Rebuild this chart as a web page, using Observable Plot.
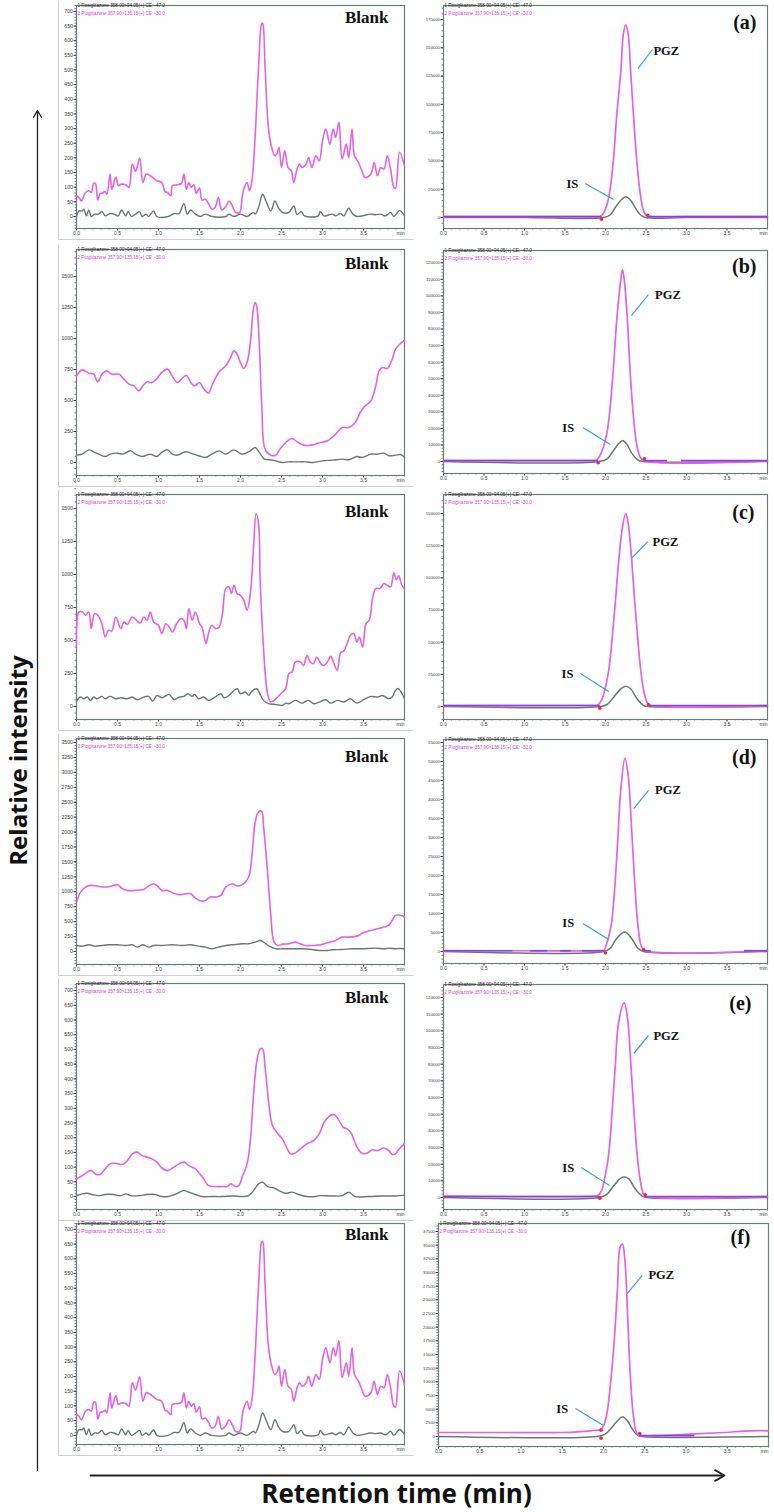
<!DOCTYPE html>
<html><head><meta charset="utf-8">
<script src="https://cdn.jsdelivr.net/npm/d3@7"></script>
<script src="https://cdn.jsdelivr.net/npm/@observablehq/plot@0.6"></script>
<style>
html,body{margin:0;padding:0;background:#fff;}
#page{position:relative;width:774px;height:1512px;overflow:hidden;background:#fff;}
#page svg{position:absolute;}
</style></head><body><div id="page"></div>
<script>
// ---------- text ----------
const hdr1 = "1 Rosiglitazone 358.00>94.05(+) CE: -47.0";
const hdr2 = "2 Pioglitazone 357.90>135.15(+) CE: -30.0";
const blankLabel = "Blank";
const panelLetters = ["(a)", "(b)", "(c)", "(d)", "(e)", "(f)"];
const yTitle = "Relative intensity";
const xTitle = "Retention time (min)";

// ---------- x ticks ----------
const xMajor = [0, 0.5, 1, 1.5, 2, 2.5, 3, 3.5];
const xMinor = d3.range(0, 4.001, 0.1);
const xEnd = ["min"];

// ---------- blank chromatograms (left column) ----------
const blank1Pgz = [[0,71],[.03,65],[.06,53],[.11,82],[.15,88],[.18,82],[.21,113],[.23,113],[.26,56],[.29,79],[.31,79],[.35,85],[.37,76],[.41,145],[.43,93],[.48,135],[.51,105],[.54,110],[.60,108],[.64,99],[.68,179],[.72,154],[.77,199],[.81,116],[.85,145],[.90,139],[.94,131],[.98,122],[1.04,116],[1.08,85],[1.11,82],[1.15,71],[1.17,105],[1.23,108],[1.28,113],[1.31,145],[1.34,93],[1.37,116],[1.40,99],[1.43,108],[1.46,79],[1.50,97],[1.53,56],[1.57,59],[1.61,44],[1.65,25],[1.69,31],[1.73,65],[1.77,22],[1.82,33],[1.86,53],[1.90,36],[1.94,14],[1.99,14],[2.02,65],[2.04,93],[2.08,116],[2.11,88],[2.14,122],[2.18,281],[2.22,509],[2.26,659],[2.27,659],[2.30,509],[2.34,304],[2.38,236],[2.42,207],[2.45,218],[2.47,236],[2.50,167],[2.54,224],[2.58,167],[2.62,156],[2.65,116],[2.69,162],[2.72,179],[2.75,167],[2.80,179],[2.83,201],[2.87,167],[2.92,207],[2.96,190],[3.00,258],[3.04,298],[3.09,247],[3.13,298],[3.16,270],[3.20,321],[3.24,196],[3.29,247],[3.32,201],[3.36,298],[3.39,207],[3.44,184],[3.48,156],[3.52,133],[3.59,145],[3.63,184],[3.67,139],[3.71,167],[3.75,162],[3.79,207],[3.83,162],[3.87,99],[3.89,96],[3.94,219],[4.0,172]];
const blank1Is = [[0,0],[.03,19],[.07,19],[.09,25],[.12,2],[.15,22],[.18,0],[.22,8],[.27,8],[.31,17],[.35,2],[.41,10],[.46,8],[.51,2],[.55,22],[.60,2],[.63,17],[.67,0],[.72,8],[.77,16],[.80,0],[.85,8],[.88,0],[.94,19],[.98,0],[1.12,0],[1.19,10],[1.25,10],[1.31,44],[1.35,8],[1.39,22],[1.45,8],[1.51,0],[1.57,8],[1.65,0],[1.82,0],[1.86,8],[1.92,0],[2.00,8],[2.08,0],[2.16,14],[2.18,8],[2.22,31],[2.27,76],[2.31,53],[2.37,19],[2.42,53],[2.46,31],[2.51,14],[2.59,14],[2.65,36],[2.69,6],[2.74,17],[2.78,2],[2.95,2],[2.97,17],[3.02,2],[3.12,8],[3.16,2],[3.22,10],[3.26,2],[3.32,28],[3.37,8],[3.42,0],[3.59,8],[3.65,6],[3.71,8],[3.77,2],[3.83,14],[3.87,0],[3.94,20],[4.0,3]];

const blank2Pgz = [[0,699],[.07,747],[.15,720],[.21,712],[.26,650],[.31,712],[.37,739],[.43,712],[.52,712],[.56,685],[.64,632],[.70,618],[.76,578],[.81,618],[.86,650],[.92,645],[.98,677],[1.04,726],[1.11,753],[1.17,694],[1.23,645],[1.28,672],[1.34,704],[1.39,650],[1.44,618],[1.50,645],[1.55,597],[1.61,559],[1.65,618],[1.74,731],[1.82,780],[1.88,847],[1.92,900],[1.96,873],[2.0,806],[2.04,758],[2.08,806],[2.12,968],[2.16,1250],[2.18,1290],[2.20,1250],[2.23,941],[2.26,457],[2.30,107],[2.37,59],[2.43,59],[2.48,107],[2.55,161],[2.63,194],[2.69,167],[2.77,140],[2.87,140],[2.95,156],[3.06,175],[3.16,228],[3.24,282],[3.32,282],[3.40,323],[3.46,403],[3.52,457],[3.59,497],[3.65,618],[3.69,739],[3.73,766],[3.79,758],[3.85,833],[3.89,914],[3.95,960],[4.0,985]];
const blank2Is = [[0,59],[.07,67],[.15,102],[.21,86],[.27,67],[.35,48],[.41,67],[.50,75],[.56,67],[.66,94],[.72,67],[.80,48],[.90,67],[.98,48],[1.04,81],[1.11,102],[1.17,67],[1.23,59],[1.33,86],[1.43,67],[1.49,54],[1.57,40],[1.65,67],[1.74,94],[1.82,67],[1.92,102],[2.02,67],[2.12,94],[2.18,121],[2.23,81],[2.29,27],[2.35,22],[2.43,13],[2.51,0],[2.59,5],[2.67,5],[2.79,5],[2.89,0],[3.0,13],[3.12,19],[3.24,27],[3.32,22],[3.42,48],[3.48,40],[3.59,67],[3.67,67],[3.75,75],[3.81,54],[3.89,59],[3.95,64],[4.0,42]];

const blank3Pgz = [[0,450],[.03,716],[.07,716],[.11,691],[.15,716],[.18,589],[.22,703],[.26,691],[.31,627],[.35,526],[.39,577],[.43,572],[.48,678],[.54,589],[.58,640],[.62,622],[.68,678],[.73,653],[.78,633],[.82,678],[.86,653],[.90,716],[.94,640],[1.0,615],[1.04,552],[1.09,627],[1.13,602],[1.17,564],[1.22,627],[1.27,665],[1.31,653],[1.34,589],[1.37,741],[1.41,653],[1.45,716],[1.50,627],[1.53,602],[1.58,476],[1.61,552],[1.65,615],[1.70,589],[1.74,602],[1.78,703],[1.82,893],[1.86,906],[1.89,855],[1.92,918],[1.96,855],[2.0,842],[2.04,805],[2.08,729],[2.12,855],[2.16,1209],[2.19,1462],[2.22,1386],[2.24,956],[2.28,450],[2.33,96],[2.37,33],[2.43,58],[2.49,96],[2.55,134],[2.59,248],[2.63,261],[2.67,337],[2.73,337],[2.77,311],[2.81,387],[2.85,337],[2.89,324],[2.93,374],[2.98,324],[3.02,311],[3.06,337],[3.10,379],[3.14,324],[3.18,273],[3.22,405],[3.26,420],[3.30,476],[3.34,539],[3.38,552],[3.42,488],[3.45,526],[3.49,450],[3.53,627],[3.57,653],[3.61,817],[3.65,893],[3.70,893],[3.75,931],[3.79,918],[3.83,906],[3.87,1012],[3.90,960],[3.93,990],[3.96,930],[4.0,890]];
const blank3Is = [[0,40],[.05,71],[.09,58],[.13,71],[.17,46],[.21,71],[.25,58],[.31,76],[.35,58],[.41,76],[.48,58],[.54,66],[.62,58],[.68,71],[.74,51],[.82,71],[.88,76],[.93,40],[.98,84],[1.04,66],[1.13,91],[1.19,51],[1.25,71],[1.31,76],[1.36,96],[1.41,76],[1.44,91],[1.49,58],[1.55,71],[1.61,46],[1.69,71],[1.76,96],[1.80,66],[1.86,84],[1.92,121],[1.96,134],[2.0,96],[2.06,109],[2.10,84],[2.14,116],[2.20,134],[2.24,91],[2.28,46],[2.35,20],[2.43,15],[2.51,8],[2.55,25],[2.59,20],[2.67,46],[2.75,25],[2.83,46],[2.89,20],[2.96,33],[3.04,51],[3.10,25],[3.18,46],[3.26,33],[3.34,58],[3.42,25],[3.50,51],[3.59,76],[3.67,71],[3.73,83],[3.81,58],[3.85,71],[3.89,121],[3.92,136],[4.0,60]];

const blank4Pgz = [[0,827],[.05,995],[.11,1079],[.17,1107],[.25,1096],[.33,1079],[.43,1096],[.50,1118],[.56,1051],[.62,1023],[.72,1023],[.82,1040],[.88,1096],[.94,1135],[.98,1107],[1.04,1023],[1.11,1023],[1.17,984],[1.25,950],[1.33,967],[1.39,967],[1.45,895],[1.51,850],[1.57,850],[1.63,911],[1.70,911],[1.76,939],[1.82,1079],[1.90,1135],[1.96,1096],[2.04,1135],[2.10,1247],[2.14,1610],[2.18,2169],[2.22,2337],[2.26,2348],[2.28,2113],[2.33,1331],[2.37,604],[2.41,157],[2.46,101],[2.51,123],[2.59,129],[2.67,157],[2.73,129],[2.79,101],[2.89,101],[2.98,112],[3.06,145],[3.16,185],[3.24,240],[3.32,240],[3.42,257],[3.50,313],[3.59,352],[3.67,380],[3.75,408],[3.81,447],[3.85,520],[3.89,604],[3.93,610],[3.97,600],[4.0,575]];
const blank4Is = [[0,101],[.07,89],[.15,112],[.23,89],[.31,101],[.39,112],[.50,112],[.60,101],[.68,112],[.74,73],[.81,112],[.88,73],[.94,101],[1.04,101],[1.17,112],[1.29,101],[1.39,112],[1.49,89],[1.57,73],[1.65,45],[1.73,73],[1.82,101],[1.90,112],[2.02,129],[2.10,129],[2.18,157],[2.24,185],[2.28,157],[2.35,90],[2.43,45],[2.51,45],[2.59,45],[2.75,45],[2.87,34],[2.96,17],[3.06,17],[3.12,28],[3.24,34],[3.36,45],[3.48,45],[3.65,56],[3.75,45],[3.81,56],[3.89,45],[3.95,50],[4.0,45]];

const blank5Pgz = [[0,60],[.07,71],[.13,83],[.18,88],[.23,77],[.29,75],[.35,94],[.41,111],[.48,113],[.56,109],[.62,122],[.68,145],[.74,151],[.80,139],[.86,134],[.92,128],[.98,117],[1.04,97],[1.11,88],[1.17,97],[1.25,111],[1.31,117],[1.37,105],[1.45,94],[1.53,68],[1.61,37],[1.70,34],[1.78,34],[1.84,34],[1.88,43],[1.94,34],[1.98,37],[2.02,66],[2.08,111],[2.12,190],[2.16,349],[2.20,462],[2.24,502],[2.27,502],[2.30,440],[2.35,304],[2.39,241],[2.45,215],[2.51,196],[2.56,168],[2.61,145],[2.66,147],[2.73,162],[2.81,179],[2.89,190],[2.96,213],[3.02,253],[3.08,272],[3.14,279],[3.19,264],[3.25,236],[3.30,230],[3.35,215],[3.42,168],[3.48,147],[3.54,147],[3.61,159],[3.67,156],[3.75,165],[3.81,156],[3.85,143],[3.89,145],[3.93,160],[4.0,180]];
const blank5Is = [[0,3],[.07,9],[.13,11],[.19,7],[.27,3],[.35,7],[.45,7],[.54,3],[.60,9],[.66,3],[.76,3],[.86,7],[.96,7],[1.04,0],[1.12,0],[1.20,7],[1.31,20],[1.37,15],[1.45,7],[1.53,0],[1.65,0],[1.78,0],[1.90,2],[2.02,0],[2.10,3],[2.16,20],[2.22,43],[2.27,49],[2.33,34],[2.41,29],[2.47,20],[2.55,11],[2.63,15],[2.71,7],[2.81,0],[2.91,0],[2.96,3],[3.12,2],[3.24,3],[3.32,15],[3.40,0],[3.56,0],[3.73,2],[3.89,2],[4.0,5]];

// row 6 blank is the same chromatogram as row 1
const blank6Pgz = blank1Pgz;
const blank6Is = blank1Is;

// ---------- sample chromatograms (right column) ----------
const pgzA = [[0,800],[1.0,800],[1.9,800],[1.94,1000],[1.98,4400],[2.02,11800],[2.06,26500],[2.10,53000],[2.14,91300],[2.19,129600],[2.22,162000],[2.25,170300],[2.28,162000],[2.31,129600],[2.35,85400],[2.39,47100],[2.43,20600],[2.47,5900],[2.51,1500],[2.56,800],[3.0,800],[4.0,800]];
const isA = [[0,0],[1.0,0],[1.98,0],[2.06,2400],[2.12,8800],[2.19,15300],[2.25,18300],[2.31,15300],[2.37,8250],[2.43,2400],[2.49,0],[3.0,0],[4.0,0]];
const pgzB = [[0,600],[1.85,600],[1.88,600],[1.92,2600],[1.98,9660],[2.02,17700],[2.06,33800],[2.10,57900],[2.14,86100],[2.19,110300],[2.21,115900],[2.23,110300],[2.27,86100],[2.30,57900],[2.34,29800],[2.38,11700],[2.42,3600],[2.47,600],[4.0,500]];
const isB = [[0,0],[1.92,0],[2.02,1610],[2.10,6640],[2.16,10660],[2.21,12700],[2.26,10660],[2.33,4630],[2.41,600],[2.47,0],[4.0,0]];
const pgzC = [[0,800],[1.88,800],[1.90,900],[1.95,4700],[2.00,15000],[2.04,28000],[2.08,51400],[2.12,79900],[2.16,111000],[2.21,139600],[2.25,150000],[2.28,142200],[2.32,116300],[2.36,82500],[2.40,51400],[2.44,25400],[2.48,9900],[2.52,2600],[2.56,800],[4.0,800]];
const isC = [[0,0],[1.94,0],[2.02,1560],[2.10,7270],[2.19,13750],[2.25,15830],[2.31,13750],[2.39,5970],[2.47,780],[2.53,0],[4.0,0]];
const pgzD = [[0,250],[1.96,250],[1.98,300],[2.02,2460],[2.07,6850],[2.11,15600],[2.15,28800],[2.19,42900],[2.24,50800],[2.28,46400],[2.32,33200],[2.36,18300],[2.40,6850],[2.44,1580],[2.48,300],[4.0,250]];
const isD = [[0,0],[1.98,0],[2.06,880],[2.14,3500],[2.24,5100],[2.32,3500],[2.40,880],[2.47,0],[4.0,0]];
const pgzE = [[0,800],[1.88,800],[1.90,1000],[1.95,4000],[2.00,14000],[2.04,26100],[2.08,50200],[2.12,78300],[2.16,104400],[2.23,116800],[2.27,108400],[2.31,82300],[2.35,52200],[2.39,26100],[2.43,10000],[2.47,2000],[2.51,600],[4.0,600]];
const isE = [[0,0],[1.92,0],[2.02,2000],[2.10,7000],[2.19,11600],[2.23,12440],[2.29,11000],[2.37,5000],[2.45,1000],[2.51,0],[4.0,0]];
const pgzF = [[0,730],[0.8,730],[1.5,730],[1.84,1040],[1.97,1340],[2.00,1950],[2.04,4100],[2.08,8960],[2.13,17500],[2.17,27260],[2.20,34580],[2.23,35200],[2.26,32140],[2.29,23000],[2.32,12600],[2.36,4100],[2.40,730],[2.43,150],[2.6,150],[3.05,430],[3.46,730],[3.78,1040],[4.0,1040]];
const isF = [[0,0],[1.92,0],[2.02,430],[2.10,1650],[2.17,2870],[2.23,3600],[2.29,2870],[2.35,1340],[2.41,240],[2.47,0],[4.0,0]];

// integration baseline segments [x1, x2, y]
const baseA = [[0,1.95,700],[2.52,4.0,700]];
const baseB = [[0,1.91,500],[2.47,2.76,500],[2.93,4.0,500]];
const baseC = [[0,1.93,800],[2.53,4.0,800]];
const baseD = [[0,0.85,200],[1.07,1.28,200],[1.44,1.57,200],[1.71,1.98,200],[2.47,2.56,200],[3.71,4.0,200]];
const baseE = [[0,1.93,600],[2.48,4.0,600]];
const baseF = [[2.43,3.1,150]];

// peak start / end markers [x, y]
const markA = [[1.95,-1500],[2.52,2000]];
const markB = [[1.91,-800],[2.48,1700]];
const markC = [[1.93,-1300],[2.53,1560]];
const markD = [[2.0,-350],[2.47,530]];
const markE = [[1.93,-400],[2.49,1600]];
const markF = [[1.97,1160],[1.97,-300],[2.44,550]];

// peak names [text, x, y] and callout lines [x1, y1, x2, y2]
const namesA = [["PGZ",2.75,147600],["IS",1.59,30050]];
const callA = [[2.58,148500,2.40,131700],[1.75,30050,2.10,15900]];
const namesB = [["PGZ",2.77,100850],["IS",1.54,20530]];
const callB = [[2.53,100850,2.32,88170],[1.72,20530,2.06,10270]];
const namesC = [["PGZ",2.74,128200],["IS",1.53,25650]];
const callC = [[2.52,128200,2.32,115000],[1.69,25650,2.04,11660]];
const namesD = [["PGZ",2.77,42370],["IS",1.54,7370]];
const callD = [[2.53,42370,2.35,37630],[1.72,7370,2.04,3160]];
const namesE = [["PGZ",2.75,97200],["IS",1.54,18000]];
const callE = [[2.53,97200,2.35,86400],[1.70,18000,2.05,7200]];
const namesF = [["PGZ",2.70,29450],["IS",1.50,5120]];
const callF = [[2.47,29450,2.29,26160],[1.66,5120,2.00,2010]];

// y ticks
const yT700 = d3.range(0, 701, 50), yM700 = d3.range(-40, 721, 10);
const yT1500 = d3.range(0, 1501, 250), yM1500 = d3.range(-100, 1701, 50);
const yT3500 = d3.range(0, 3501, 250), yM3500 = d3.range(-200, 3551, 50);
const yTA = d3.range(0, 175001, 25000), yMA = d3.range(-5000, 185001, 5000);
const yTB = d3.range(0, 120001, 10000), yMB = d3.range(-6000, 126001, 2000);
const yTC = d3.range(0, 150001, 25000), yMC = d3.range(-10000, 160001, 5000);
const yTD = d3.range(0, 55001, 5000), yMD = d3.range(-3000, 55001, 1000);
const yTF = d3.range(0, 37501, 2500), yMF = d3.range(-1500, 38501, 500);

// ---------- styling ----------
const PINK = "#e463e2", GRAY = "#6b7774", PURPLE = "#8d3fe6", BLUE = "#3f9ee0", RED = "#ee2a3a";
const FRAME = "#6e7c7c", TICKTXT = "#3a3a3a";

const leftPanels = [
  {frame:[76,5,404,228], ydom:[-41,720], yT:yT700, yM:yM700, pgz:blank1Pgz, is:blank1Is, ldy:12},
  {frame:[76,249,404,475], ydom:[-105,1718], yT:yT1500, yM:yM1500, pgz:blank2Pgz, is:blank2Is, ldy:14},
  {frame:[76,494,404,719], ydom:[-99,1606], yT:yT1500, yM:yM1500, pgz:blank3Pgz, is:blank3Is, ldy:17},
  {frame:[76,738,404,964], ydom:[-218,3567], yT:yT3500, yM:yM3500, pgz:blank4Pgz, is:blank4Is, ldy:18},
  {frame:[76,983,404,1209], ydom:[-44,724], yT:yT700, yM:yM700, pgz:blank5Pgz, is:blank5Is, ldy:14},
  {frame:[76,1223,404,1444], ydom:[-31,720], yT:yT700, yM:yM700, pgz:blank6Pgz, is:blank6Is, ldy:11}
];
const rightPanels = [
  {frame:[443,5,767,228], ydom:[-9720,187400], yT:yTA, yM:yMA, pgz:pgzA, is:isA, base:baseA, mk:markA, names:namesA, call:callA, ldx:-11, ldy:17},
  {frame:[443,250,767,473], ydom:[-7250,127430], yT:yTB, yM:yMB, pgz:pgzB, is:isB, base:baseB, mk:markB, names:namesB, call:callB, ldx:-11, ldy:16},
  {frame:[443,494,767,719], ydom:[-10100,164770], yT:yTC, yM:yMC, pgz:pgzC, is:isC, base:baseC, mk:markC, names:namesC, call:callC, ldx:-13, ldy:18},
  {frame:[443,739,767,963], ydom:[-3158,55790], yT:yTD, yM:yMD, pgz:pgzD, is:isD, base:baseD, mk:markD, names:namesD, call:callD, ldx:-11, ldy:18},
  {frame:[443,984,767,1209], ydom:[-7200,127800], yT:yTB, yM:yMB, pgz:pgzE, is:isE, base:baseE, mk:markE, names:namesE, call:callE, ldx:-16, ldy:19},
  {frame:[438,1223,768,1446], ydom:[-1830,38960], yT:yTF, yM:yMF, pgz:pgzF, is:isF, base:baseF, mk:markF, names:namesF, call:callF, ldx:-18, ldy:14}
];

const page = document.getElementById("page");

// ---------- page overlay: borders, arrows, titles ----------
const borders = leftPanels.map(p => [58, p.frame[1] - 5, 413, p.frame[3] + 11]);
const overlay = Plot.plot({
  width: 774, height: 1512, margin: 0,
  x: {type: "identity", axis: null}, y: {type: "identity", axis: null},
  style: {background: "transparent", overflow: "visible"},
  marks: [
    Plot.link(borders, {x1: d => d[0], y1: d => d[1], x2: d => d[0], y2: d => d[3], stroke: "#cfcfcf", strokeWidth: 1}),
    Plot.link(borders, {x1: d => d[0], y1: d => d[3], x2: d => d[2], y2: d => d[3], stroke: "#cfcfcf", strokeWidth: 1}),
    Plot.arrow([0], {x1: 37, y1: 1470, x2: 37, y2: 110, stroke: "#222", strokeWidth: 1.3, headLength: 9}),
    Plot.arrow([0], {x1: 90, y1: 1475, x2: 724, y2: 1475, stroke: "#222", strokeWidth: 1.8, headLength: 9}),
    Plot.text([yTitle], {x: 19, y: 760, rotate: -90, fontSize: 24, fontWeight: "bold", fontFamily: "Open Sans", fill: "#111"}),
    Plot.text([xTitle], {x: 396, y: 1494, fontSize: 26, fontWeight: "bold", fontFamily: "Open Sans", fill: "#111"})
  ]
});
overlay.style.left = "0px"; overlay.style.top = "0px";
page.appendChild(overlay);

function drawPanel(p, right, letter) {
  const [fl, ft, fr, fb] = p.frame;
  const mL = 40, mR = 6, mT = 10, mB = 14;
  const yFont = right ? 4.3 : 5.2;
  const marks = [
    Plot.axisY(p.yM, {tickSize: 1.5, tickFormat: () => "", label: null, color: FRAME}),
    Plot.axisY(p.yT, {tickSize: 2.5, tickPadding: 1, tickFormat: d => String(d), label: null, fontSize: yFont, color: TICKTXT}),
    Plot.axisX(xMinor, {tickSize: 1.5, tickFormat: () => "", label: null, color: FRAME}),
    Plot.axisX(xMajor, {tickSize: 2.5, tickPadding: 0.5, tickFormat: d3.format(".1f"), label: null, fontSize: 5, color: TICKTXT}),
    Plot.text(xEnd, {x: () => 4, frameAnchor: "bottom", dy: 3, lineAnchor: "top", textAnchor: "end", fontSize: 5, fill: TICKTXT}),
    Plot.frame({stroke: FRAME, strokeWidth: 1.2})
  ];
  if (right) {
    marks.push(
      Plot.line(p.is, {x: d => d[0], y: d => d[1], stroke: GRAY, strokeWidth: 1.5, curve: "catmull-rom"}),
      Plot.line(p.pgz, {x: d => d[0], y: d => d[1], stroke: PINK, strokeWidth: 1.7, curve: "catmull-rom"}),
      Plot.link(p.base, {x1: d => d[0], x2: d => d[1], y1: d => d[2], y2: d => d[2], stroke: PURPLE, strokeWidth: 1.7}),
      Plot.dot(p.mk, {x: d => d[0], y: d => d[1], r: 1.8, fill: RED, stroke: "none"}),
      Plot.link(p.call, {x1: d => d[0], y1: d => d[1], x2: d => d[2], y2: d => d[3], stroke: BLUE, strokeWidth: 1.2}),
      Plot.text(p.names, {x: d => d[1], y: d => d[2], text: d => d[0], fontFamily: "Liberation Serif", fontWeight: "bold", fontSize: 12.5, fill: "#111"}),
      Plot.text([letter], {frameAnchor: "top-right", dx: p.ldx, dy: p.ldy, textAnchor: "end", lineAnchor: "middle", fontFamily: "Liberation Serif", fontWeight: "bold", fontSize: 20, fill: "#111"})
    );
  } else {
    marks.push(
      Plot.line(p.pgz, {x: d => d[0], y: d => d[1], stroke: PINK, strokeWidth: 1.6, curve: "catmull-rom"}),
      Plot.line(p.is, {x: d => d[0], y: d => d[1], stroke: GRAY, strokeWidth: 1.4, curve: "catmull-rom"}),
      Plot.text([letter], {frameAnchor: "top-right", dx: -16, dy: p.ldy, textAnchor: "end", lineAnchor: "middle", fontFamily: "Liberation Serif", fontWeight: "bold", fontSize: 17, fill: "#111"})
    );
  }
  marks.push(
    Plot.text([hdr1], {frameAnchor: "top-left", dx: 1, dy: 0, textAnchor: "start", lineAnchor: "middle", fontSize: 4.6, fill: "#222"}),
    Plot.text([hdr2], {frameAnchor: "top-left", dx: 1, dy: 8, textAnchor: "start", lineAnchor: "middle", fontSize: 4.6, fill: "#d23fd6"})
  );
  const svg = Plot.plot({
    width: fr - fl + mL + mR, height: fb - ft + mT + mB,
    marginLeft: mL, marginRight: mR, marginTop: mT, marginBottom: mB,
    x: {domain: [0, 4]}, y: {domain: p.ydom},
    style: {background: "transparent", overflow: "visible", fontFamily: "Liberation Sans, Arial, sans-serif", fontSize: "5px"},
    marks
  });
  svg.style.left = (fl - mL) + "px";
  svg.style.top = (ft - mT) + "px";
  page.appendChild(svg);
}

leftPanels.forEach(p => drawPanel(p, false, blankLabel));
rightPanels.forEach((p, i) => drawPanel(p, true, panelLetters[i]));
</script></body></html>
